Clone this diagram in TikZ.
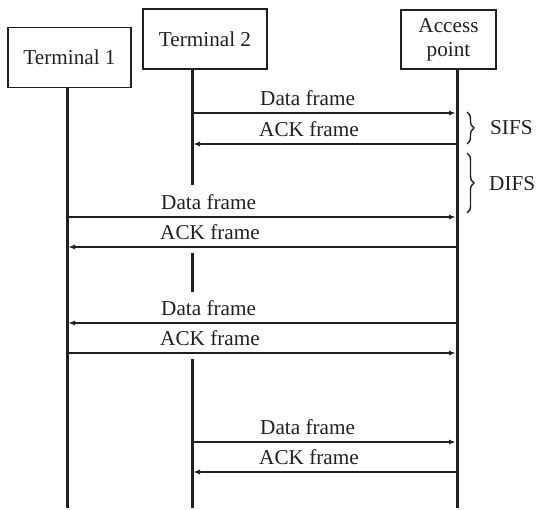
\documentclass[tikz,border=0pt]{standalone}
\usepackage{fontspec}
\setmainfont{Liberation Serif}
\usetikzlibrary{arrows.meta,decorations.pathreplacing}
\definecolor{ink}{HTML}{231F20}
\begin{document}
\begin{tikzpicture}[x=1pt,y=-1pt,
  every node/.style={text=ink, font=\fontsize{21.2}{23}\selectfont},
  box/.style={draw=ink, line width=1.7pt, inner sep=0pt, minimum height=60pt},
  life/.style={draw=ink, line width=3pt},
  msg/.style={draw=ink, line width=1.6pt, -{Latex[length=7pt,width=5pt]}},
  lbl/.style={anchor=base west, inner sep=0pt},
  brc/.style={draw=ink, line width=1.4pt, decorate, decoration={brace, amplitude=7pt}}]
\useasboundingbox (0,0) rectangle (536,510);
% boxes
\node[box, minimum width=123pt] (t1) at (69.5,57.5) {Terminal 1};
\node[box, minimum width=124pt] (t2) at (205,39) {Terminal 2};
\node[box, minimum width=95pt, minimum height=59pt, align=center, font=\fontsize{21.2}{24}\selectfont] (ap) at (448.5,39.5) {Access\\point};
% lifeline coordinates
\coordinate (L1t) at (67,87.5);   \coordinate (L1b) at (67,508);
\coordinate (L2t) at (192,69);    \coordinate (L2a) at (192,185);
\coordinate (L2c) at (192,253);   \coordinate (L2d) at (192,292);
\coordinate (L2e) at (192,359);   \coordinate (L2b) at (192,508);
\coordinate (L3t) at (457,69);    \coordinate (L3b) at (457,508);
\draw[life] (L1t) -- (L1b);
\draw[life] (L2t) -- (L2a);
\draw[life] (L2c) -- (L2d);
\draw[life] (L2e) -- (L2b);
\draw[life] (L3t) -- (L3b);
% message end points
\coordinate (m1a) at (192,113); \coordinate (m1b) at (456,113);
\coordinate (m2a) at (457,144); \coordinate (m2b) at (193,144);
\coordinate (m3a) at (67,217);  \coordinate (m3b) at (456,217);
\coordinate (m4a) at (457,247); \coordinate (m4b) at (68,247);
\coordinate (m5a) at (457,323); \coordinate (m5b) at (68,323);
\coordinate (m6a) at (67,353);  \coordinate (m6b) at (456,353);
\coordinate (m7a) at (192,442); \coordinate (m7b) at (456,442);
\coordinate (m8a) at (457,472); \coordinate (m8b) at (193,472);
\draw[msg] (m1a) -- (m1b);
\draw[msg] (m2a) -- (m2b);
\draw[msg] (m3a) -- (m3b);
\draw[msg] (m4a) -- (m4b);
\draw[msg] (m5a) -- (m5b);
\draw[msg] (m6a) -- (m6b);
\draw[msg] (m7a) -- (m7b);
\draw[msg] (m8a) -- (m8b);
% labels
\node[lbl] (l1) at (260,106) {Data frame};
\node[lbl] (l2) at (259,137) {ACK frame};
\node[lbl] (l3) at (161,210) {Data frame};
\node[lbl] (l4) at (160,240) {ACK frame};
\node[lbl] (l5) at (161,316) {Data frame};
\node[lbl] (l6) at (160,346) {ACK frame};
\node[lbl] (l7) at (260,435) {Data frame};
\node[lbl] (l8) at (259,465) {ACK frame};
% braces
\coordinate (s1) at (467,112); \coordinate (s2) at (467,144);
\coordinate (d1) at (467,153); \coordinate (d2) at (467,213);
\draw[brc] (s1) -- (s2);
\draw[brc] (d1) -- (d2);
\node[lbl] (sifs) at (490,135) {SIFS};
\node[lbl] (difs) at (489,191) {DIFS};
\end{tikzpicture}
\end{document}
